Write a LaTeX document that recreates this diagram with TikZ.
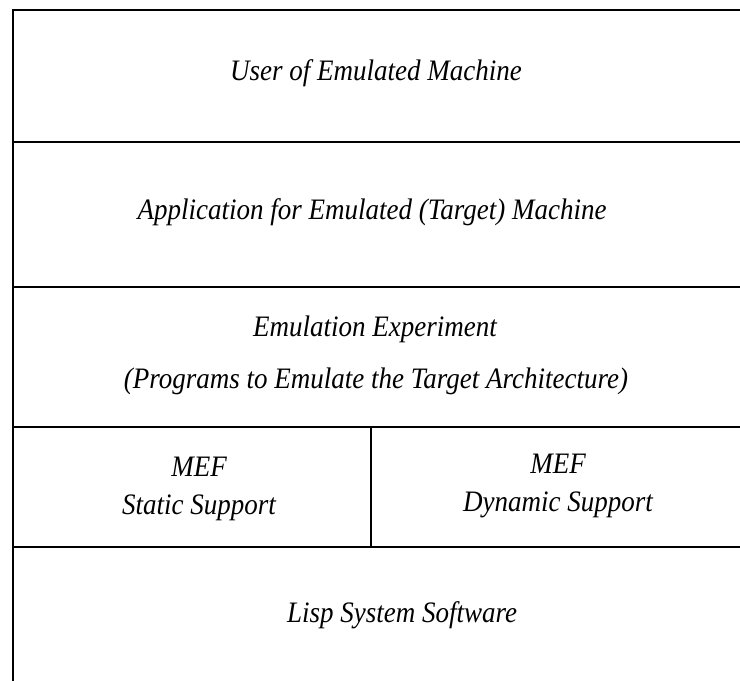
\documentclass[tikz,border=0pt]{standalone}
\usepackage{fontspec}
\usepackage{graphicx}
\setmainfont{Liberation Serif}
\newcommand{\tallit}[1]{\scalebox{1}[1.1]{#1}}
\begin{document}
\begin{tikzpicture}[x=1pt,y=1pt,
  rule/.style={line width=1.5pt, black},
  layer/.style={font=\fontsize{27}{30}\selectfont\itshape, inner sep=0pt, anchor=base}]
\useasboundingbox (0,0) rectangle (740,681);
% frame: left edge, top edge and the layer dividers
\draw[rule] (740,671) -- (13,671) -- (13,0);
\draw[rule] (13,539) -- (740,539);
\draw[rule] (13,394) -- (740,394);
\draw[rule] (13,254) -- (740,254);
\draw[rule] (13,134) -- (740,134);
\draw[rule] (371,254) -- (371,134);
% layer labels
\node[layer] (user) at (376,600) {\tallit{User of Emulated Machine}};
\node[layer] (app) at (372,461) {\tallit{Application for Emulated (Target) Machine}};
\node[layer] (exp1) at (375,344) {\tallit{Emulation Experiment}};
\node[layer] (exp2) at (376,292) {\tallit{(Programs to Emulate the Target Architecture)}};
\node[layer] (mefs) at (199,204) {\tallit{MEF}};
\node[layer] (stat) at (199,166) {\tallit{Static Support}};
\node[layer] (mefd) at (558,207) {\tallit{MEF}};
\node[layer] (dyn) at (558,169) {\tallit{Dynamic Support}};
\node[layer] (lisp) at (402,58) {\tallit{Lisp System Software}};
\end{tikzpicture}
\end{document}
